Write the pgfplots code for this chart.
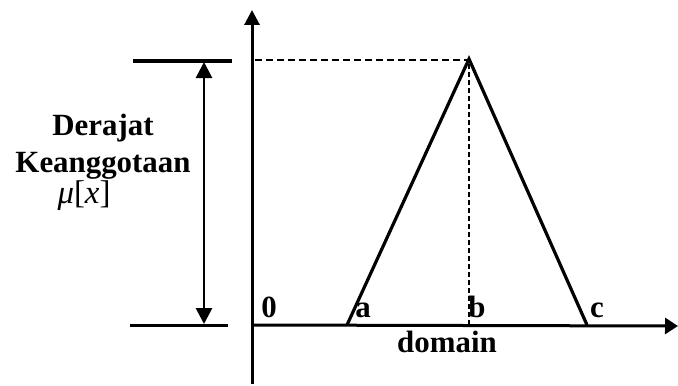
\documentclass[border=0pt]{standalone}
\usepackage{pgfplots}
\pgfplotsset{compat=1.18}
\usepackage{fontspec}
\setmainfont{Liberation Serif}
\usetikzlibrary{arrows.meta}
\begin{document}
\begin{tikzpicture}
\begin{axis}[
  scale only axis, width=678bp, height=386bp,
  xmin=0, xmax=678, ymin=0, ymax=386, y dir=reverse,
  enlargelimits=false, hide axis, clip=false,
]
% axes
\addplot[black, line width=3bp, -{Triangle[length=15bp,width=15bp]}] coordinates {(252,384) (252,10)};
\addplot[black, line width=3bp, -{Triangle[length=13bp,width=16bp]}] coordinates {(252,325) (678,326)};
% triangular membership function
\addplot[black, line width=3.2bp] coordinates {(347,325) (469,59) (587,325)};
% dashed guides
\addplot[black, line width=2.4bp, dash pattern=on 7bp off 4bp] coordinates {(255,60) (469,60)};
\addplot[black, line width=2.6bp, dash pattern=on 5bp off 3bp] coordinates {(469,64) (469,325)};
% left reference lines
\addplot[black, line width=3bp] coordinates {(133,61) (232,61)};
\addplot[black, line width=3bp] coordinates {(130,325) (228,325)};
% double arrow
\addplot[black, line width=2.8bp, {Triangle[length=16bp,width=16bp]}-{Triangle[length=16bp,width=16bp]}] coordinates {(204,62) (204,324)};
% labels
\node[anchor=base, font=\fontsize{31}{36}\selectfont\bfseries, inner sep=0pt] at (axis cs:103,135) {Derajat};
\node[anchor=base, font=\fontsize{31}{36}\selectfont\bfseries, inner sep=0pt] at (axis cs:103,172) {Keanggotaan};
\node[anchor=base, font=\fontsize{33}{38}\selectfont, inner sep=0pt] at (axis cs:84,203) {\textit{μ}[\textit{x}]};
\node[anchor=base, font=\fontsize{31}{36}\selectfont\bfseries, inner sep=0pt] at (axis cs:269,317) {0};
\node[anchor=base, font=\fontsize{31}{36}\selectfont\bfseries, inner sep=0pt] at (axis cs:363,317) {a};
\node[anchor=base, font=\fontsize{31}{36}\selectfont\bfseries, inner sep=0pt] at (axis cs:477,317) {b};
\node[anchor=base, font=\fontsize{31}{36}\selectfont\bfseries, inner sep=0pt] at (axis cs:597,317) {c};
\node[anchor=base, font=\fontsize{31}{36}\selectfont\bfseries, inner sep=0pt] at (axis cs:447,352) {domain};
\end{axis}
\pgfresetboundingbox
\path (current axis.south west) rectangle (current axis.north east);
\end{tikzpicture}
\end{document}
